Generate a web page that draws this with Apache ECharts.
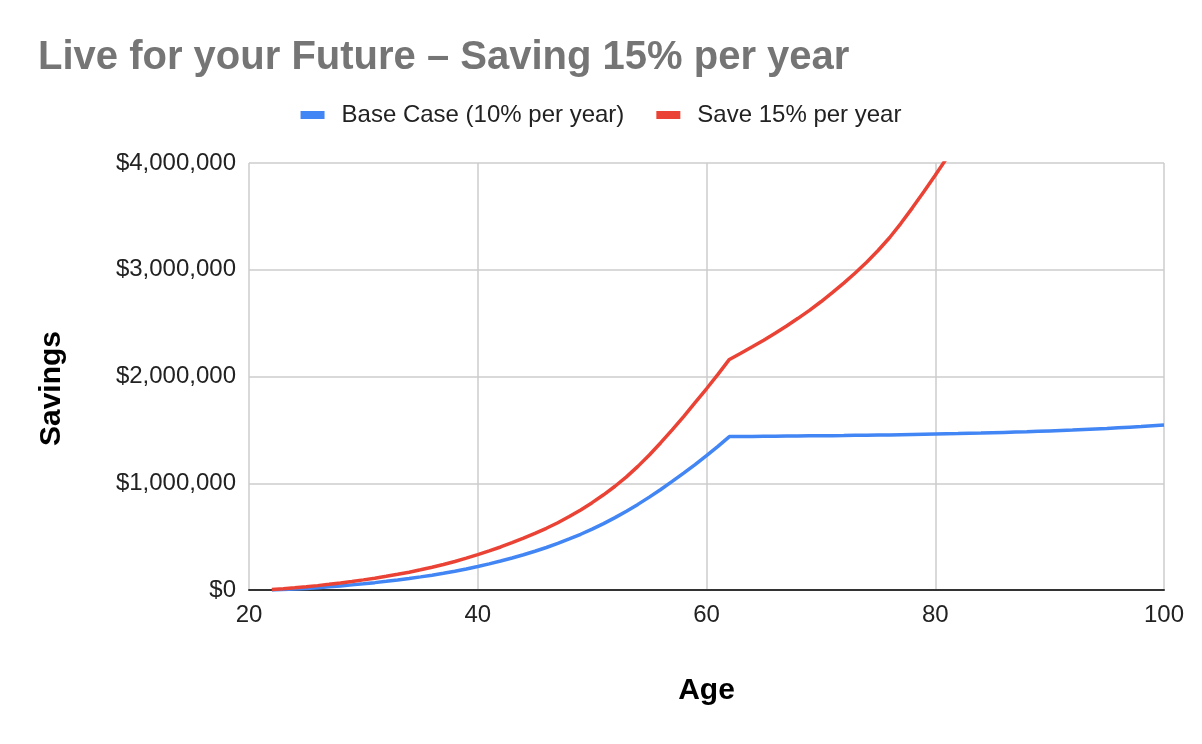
<!DOCTYPE html>
<html>
<head>
<meta charset="utf-8">
<title>Live for your Future</title>
<script src="https://cdn.jsdelivr.net/npm/echarts@6/dist/echarts.min.js"></script>
<style>
    html, body {margin: 0; padding: 0; background: #fff;}
    #chartData {width: 1202px; height: 744px;}
</style>
</head>
<body>
<div id="chartData"></div>
<script>
// ages (x), one point per year, 22..100
var ages = [];
for (var a = 22; a <= 100; a++) {
    ages.push(a);
}

// Base Case (10% per year), in thousands of dollars
var baseCase = [
    0, 4, 9, 15, 22, 30, 38, 48, 58, 69,                 // 22-31
    81, 94, 108, 123, 139, 156, 175, 196, 220, 245,      // 32-41
    272, 300, 330, 363, 398, 436, 478, 522, 570, 622,    // 42-51
    678, 738, 802, 870, 942, 1017, 1095, 1175, 1258, 1345, // 52-61
    1437, 1438, 1439, 1440, 1441, 1442, 1443, 1444, 1445, 1446, // 62-71
    1447, 1449, 1450, 1452, 1453, 1455, 1457, 1459, 1461, 1463, // 72-81
    1465, 1468, 1470, 1473, 1476, 1479, 1482, 1486, 1490, 1494, // 82-91
    1498, 1503, 1508, 1513, 1519, 1525, 1531, 1538, 1545        // 92-100
];

// Save 15% per year, in thousands of dollars (runs off the top after ~81)
var save15 = [
    5, 12, 20, 30, 41, 53, 66, 80, 95, 111,              // 22-31
    128, 147, 167, 189, 213, 239, 267, 298, 331, 366,    // 32-41
    403, 443, 485, 530, 578, 630, 688, 750, 818, 892,    // 42-51
    972, 1060, 1158, 1265, 1380, 1500, 1625, 1755, 1885, 2020, // 52-61
    2160, 2218, 2278, 2340, 2405, 2473, 2545, 2620, 2700, 2785, // 62-71
    2875, 2970, 3070, 3180, 3300, 3435, 3580, 3730, 3885, 4045, // 72-81
    4210                                                 // 82
];

var yTicks = {min: 0, max: 4000000, interval: 1000000};
var xTicks = {min: 20, max: 100, interval: 20};

var legends = ['Base Case (10% per year)', 'Save 15% per year'];
var colors = ['#4285f4', '#ea4335'];

// [age, dollars] pairs for a value x-axis
var pairs = function (values) {
    var out = [];
    for (var i = 0; i < values.length; i++) {
        out.push([ages[i], values[i] * 1000]);
    }
    return out;
};

var myChart = echarts.init(document.getElementById('chartData'));

var option = {
    color: colors,
    animation: false,
    textStyle: {
        fontFamily: 'Liberation Sans, Arial, sans-serif'
    },
    title: {
        text: 'Live for your Future \u2013 Saving 15% per year',
        left: 38,
        top: 38,
        padding: 0,
        textStyle: {
            fontSize: 40,
            fontWeight: 'bold',
            color: '#757575',
            lineHeight: 40
        }
    },
    legend: {
        data: legends,
        left: 'center',
        top: 98,
        itemWidth: 24,
        itemHeight: 8,
        itemGap: 32,
        icon: 'rect',
        textStyle: {
            fontSize: 24,
            color: '#222',
            padding: [0, 0, 0, 12]
        }
    },
    grid: {
        left: 249,
        right: 38,
        top: 163,
        bottom: 154,
        containLabel: false
    },
    xAxis: {
        type: 'value',
        min: xTicks.min,
        max: xTicks.max,
        interval: xTicks.interval,
        name: 'Age',
        nameLocation: 'middle',
        nameGap: 86,
        nameTextStyle: {
            fontSize: 30,
            fontWeight: 'bold',
            color: '#000'
        },
        axisLine: {
            lineStyle: {color: '#333', width: 2}
        },
        axisTick: {show: false},
        axisLabel: {
            fontSize: 24,
            color: '#222',
            margin: 13
        },
        splitLine: {
            show: true,
            lineStyle: {color: '#cccccc', width: 1.5}
        }
    },
    yAxis: {
        type: 'value',
        min: yTicks.min,
        max: yTicks.max,
        interval: yTicks.interval,
        name: 'Savings',
        nameLocation: 'middle',
        nameGap: 182,
        nameTextStyle: {
            fontSize: 30,
            fontWeight: 'bold',
            color: '#000',
            padding: [0, 24, 0, 0]
        },
        axisLine: {show: false},
        axisTick: {show: false},
        axisLabel: {
            fontSize: 24,
            color: '#222',
            margin: 13,
            formatter: function (v) {
                return '$' + v.toLocaleString('en-US');
            }
        },
        splitLine: {
            lineStyle: {color: '#cccccc', width: 1.5}
        }
    },
    series: [
        {
            name: legends[0],
            type: 'line',
            showSymbol: false,
            clip: true,
            lineStyle: {width: 3.5},
            data: pairs(baseCase)
        },
        {
            name: legends[1],
            type: 'line',
            showSymbol: false,
            clip: true,
            lineStyle: {width: 3.5},
            data: pairs(save15)
        }
    ]
};

myChart.setOption(option);
</script>
</body>
</html>
